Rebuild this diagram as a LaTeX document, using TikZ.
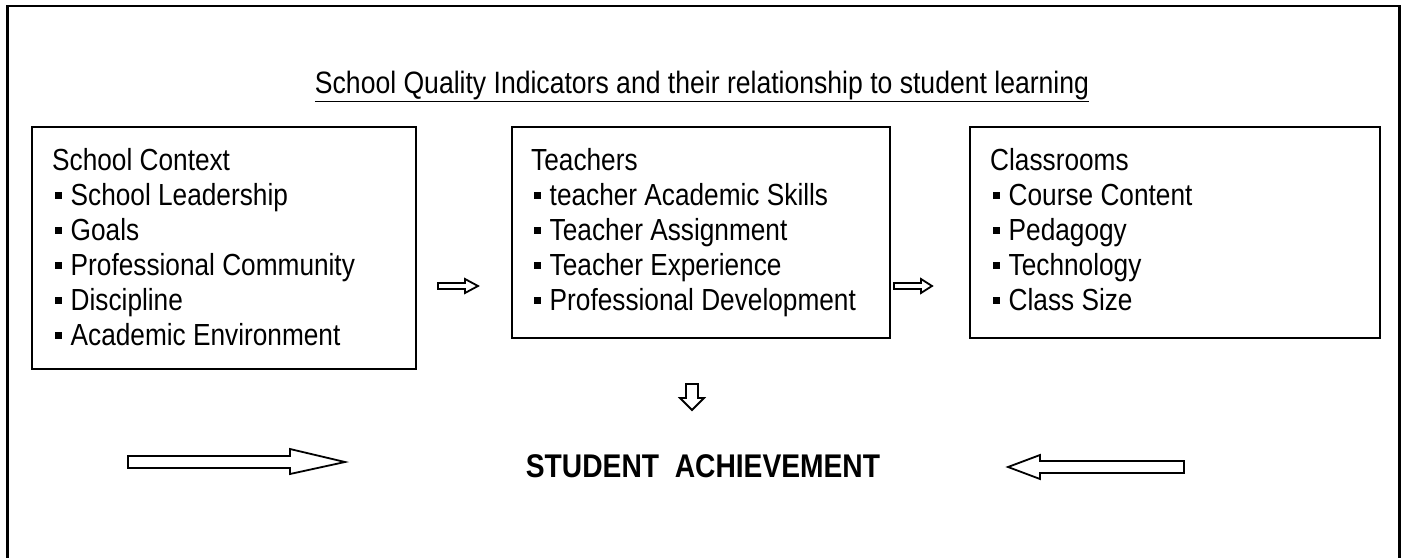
\documentclass[tikz,border=0pt]{standalone}
\usepackage{fontspec}
\setmainfont{Liberation Sans}[FakeStretch=0.86]
\newcommand{\sqb}{\hspace*{2.5pt}\raisebox{6.2pt}{\rule{7.5pt}{7.5pt}}\hspace{8.5pt}}
\begin{document}
\begin{tikzpicture}[x=1pt,y=-1pt,
  frame/.style={draw=black,line width=2.6pt},
  boxs/.style={draw=black,line width=2.6pt,inner sep=0pt},
  lst/.style={anchor=north west,align=left,inner sep=0pt,font=\fontsize{30.5}{35}\selectfont},
  blk/.style={draw=black,line width=1.8pt,fill=white,line join=miter}]
\useasboundingbox (0,0) rectangle (1404,557);
\draw[frame] (7.5,6) rectangle (1399.5,575);
\node[inner sep=0pt,anchor=base,font=\fontsize{30.9}{36}\selectfont] (title) at (702,93) {\underline{School Quality Indicators and their relationship to student learning}};
\node[boxs,minimum width=384pt,minimum height=242pt] (b1) at (224,248) {};
\node[boxs,minimum width=378pt,minimum height=211pt] (b2) at (701,232.5) {};
\node[boxs,minimum width=410pt,minimum height=211pt] (b3) at (1175,232.5) {};
\node[lst] (t1) at (52,148) {School Context\\\sqb School Leadership\\\sqb Goals\\\sqb Professional Community\\\sqb Discipline\\\sqb Academic Environment};
\node[lst] (t2) at (531,148) {Teachers\\\sqb teacher Academic Skills\\\sqb Teacher Assignment\\\sqb Teacher Experience\\\sqb Professional Development};
\node[lst] (t3) at (990,148) {Classrooms\\\sqb Course Content\\\sqb Pedagogy\\\sqb Technology\\\sqb Class Size};
\node[inner sep=0pt,anchor=base,font=\bfseries\fontsize{32.8}{38}\selectfont] (sa) at (703,477) {STUDENT\ \ ACHIEVEMENT};
% small arrows
\draw[blk] (438,283) -- (465,283) -- (465,279) -- (478,286) -- (465,293) -- (465,289) -- (438,289) -- cycle;
\draw[blk] (894,283) -- (921,283) -- (921,279) -- (932,286) -- (921,293) -- (921,289) -- (894,289) -- cycle;
% down arrow
\draw[blk] (686,384) -- (698,384) -- (698,398) -- (704,398) -- (692,410) -- (680,398) -- (686,398) -- cycle;
% big arrows
\draw[blk] (128,456) -- (290,456) -- (290,449) -- (345,462) -- (290,474) -- (290,468) -- (128,468) -- cycle;
\draw[blk] (1184,461) -- (1040,461) -- (1040,455) -- (1008,467) -- (1040,479) -- (1040,473) -- (1184,473) -- cycle;
\end{tikzpicture}
\end{document}
